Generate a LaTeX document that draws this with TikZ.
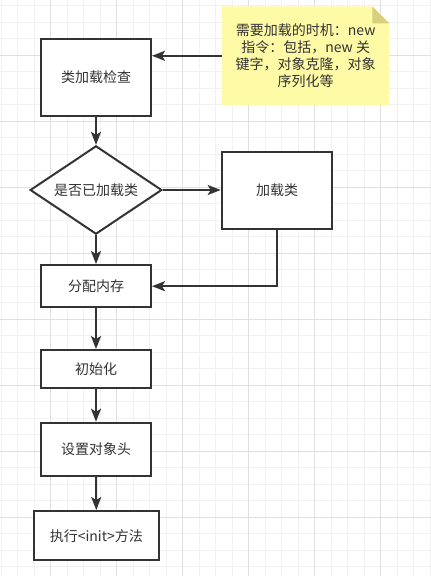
\documentclass[tikz,border=0pt]{standalone}
\usepackage{fontspec}
\setmainfont{Noto Sans CJK SC}
\usetikzlibrary{shapes.geometric,arrows.meta,calc,backgrounds}
\definecolor{ink}{HTML}{333333}
\definecolor{gridminor}{HTML}{F1F1F1}
\definecolor{gridmajor}{HTML}{E0E0E0}
\definecolor{notefill}{HTML}{FFFAA6}
\definecolor{notefold}{HTML}{D6CF7C}
\tikzset{
  procbox/.style={draw=ink, line width=2pt, fill=white, rectangle, inner sep=0pt,
    text=ink, font=\fontsize{14}{17}\selectfont},
  decision/.style={draw=ink, line width=2pt, fill=white, diamond, aspect=1.49, inner sep=1pt,
    text=ink, font=\fontsize{14}{17}\selectfont},
  notetext/.style={rectangle, inner sep=0pt, text=ink, align=center,
    font=\fontsize{14}{17}\selectfont},
  arr/.style={draw=ink, line width=2pt, -{Stealth[length=13pt,width=10pt,inset=3pt]}},
}
\begin{document}
\begin{tikzpicture}[x=1pt,y=-1pt]
\useasboundingbox (0,0) rectangle (431,576);
% nodes
\node[procbox, minimum width=110pt, minimum height=77pt] (check) at (96,77.5) {类加载检查};
\node[decision, minimum width=131.7pt, minimum height=88.3pt] (loaded) at (96,190) {是否已加载类};
\node[procbox, minimum width=110.6pt, minimum height=77.3pt] (load) at (277,190.3) {加载类};
\node[procbox, minimum width=110pt, minimum height=42.3pt] (alloc) at (96,286.2) {分配内存};
\node[procbox, minimum width=110pt, minimum height=37.7pt] (init) at (96,368.9) {初始化};
\node[procbox, minimum width=110pt, minimum height=53.3pt] (header) at (96,449.4) {设置对象头};
\node[procbox, minimum width=125.3pt, minimum height=49.3pt] (exec) at (96.3,535.7) {执行<init>方法};
\node[notetext, minimum width=166.7pt, minimum height=98.3pt] (note) at (305.7,55.8)
  {需要加载的时机：new\\指令：包括，new 关\\键字，对象克隆，对象\\序列化等};
% background: grid and note paper
\begin{pgfonlayer}{background}
\fill[white] (0,0) rectangle (431,576);
\foreach \i in {0,...,26} {
  \pgfmathsetmacro{\gx}{1+16.5*\i}
  \draw[gridminor, line width=1pt] (\gx,0) -- (\gx,576);
}
\foreach \j in {0,...,34} {
  \pgfmathsetmacro{\gy}{5.5+16.5*\j}
  \draw[gridminor, line width=1pt] (0,\gy) -- (431,\gy);
}
\foreach \i in {0,...,6} {
  \pgfmathsetmacro{\gx}{50.5+66*\i}
  \draw[gridmajor, line width=1pt] (\gx,0) -- (\gx,576);
}
\foreach \j in {0,...,8} {
  \pgfmathsetmacro{\gy}{55+66*\j}
  \draw[gridmajor, line width=1pt] (0,\gy) -- (431,\gy);
}
\fill[notefill] (note.north west) -- ([xshift=-17pt]note.north east) -- ([yshift=-17pt]note.north east)
  -- (note.south east) -- (note.south west) -- cycle;
\fill[notefold] ([xshift=-17pt]note.north east) -- ([xshift=-17pt,yshift=-17pt]note.north east)
  -- ([yshift=-17pt]note.north east) -- cycle;
\end{pgfonlayer}
% connectors
\draw[arr] (note.west) -- (check.east |- note.west);
\draw[arr] (check.south) -- (loaded.north);
\draw[arr] (loaded.east) -- (loaded.east -| load.west);
\draw[arr] (loaded.south) -- (alloc.north);
\draw[arr] (load.south) -- (load.south |- alloc.east) -- (alloc.east);
\draw[arr] (alloc.south) -- (init.north);
\draw[arr] (init.south) -- (header.north);
\draw[arr] (header.south) -- (exec.north);
\end{tikzpicture}
\end{document}
